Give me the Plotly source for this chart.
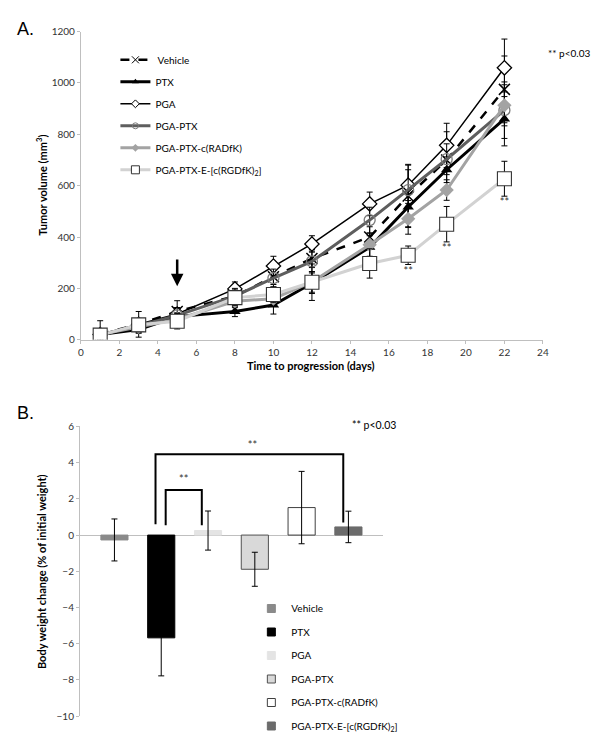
import plotly.graph_objects as go

# ---------------- Panel A data ----------------
days = [1, 3, 5, 8, 10, 12, 15, 17, 19, 22]
series_names = [" Vehicle", "PTX", "PGA", "PGA-PTX", "PGA-PTX-c(RADfK)", "PGA-PTX-E-[c(RGDfK)<sub>2</sub>]"]
vehicle = [22, 60, 110, 170, 245, 316, 400, 560, 700, 975]
vehicle_err = [52, 50, 42, 25, 30, 35, 40, 120, 110, 130]
ptx = [20, 40, 90, 110, 135, 220, 360, 517, 662, 860]
ptx_err = [15, 15, 20, 20, 35, 40, 45, 80, 50, 105]
pga = [20, 60, 100, 198, 287, 373, 529, 602, 757, 1059]
pga_err = [20, 20, 25, 27, 38, 32, 46, 60, 86, 112]
pga_ptx = [20, 55, 95, 170, 240, 305, 466, 583, 703, 894]
pga_ptx_err = [20, 25, 30, 30, 35, 40, 50, 100, 60, 110]
radfk = [20, 50, 80, 150, 160, 225, 370, 471, 583, 913]
radfk_err = [20, 20, 25, 25, 30, 40, 45, 60, 40, 80]
rgd = [18, 58, 72, 164, 176, 224, 297, 329, 450, 627]
rgd_err = [20, 25, 30, 30, 30, 71, 57, 36, 69, 68]
star_days = [17, 19, 22]
star_vals = [263, 352, 532]
arrow_day = 5
arrow_from = 318
arrow_to = 208

# ---------------- Panel B data ----------------
groups = ["Vehicle", "PTX", "PGA", "PGA-PTX", "PGA-PTX-c(RADfK)", "PGA-PTX-E-[c(RGDfK)<sub>2</sub>]"]
bw_change = [-0.27, -5.68, 0.25, -1.89, 1.52, 0.45]
bw_err = [1.16, 2.1, 1.08, 0.94, 2.0, 0.87]
bracket1_x = [1.095, 1.095, 1.867, 1.867]
bracket1_y = [0.54, 2.49, 2.49, 0.54]
bracket2_x = [0.878, 0.878, 4.89, 4.89]
bracket2_y = [0.6, 4.47, 4.47, 0.69]

fig = go.Figure()

FONT = "Lato"
lines = [
    dict(color="black", width=2.5, dash="dash"),
    dict(color="black", width=3),
    dict(color="black", width=1.5),
    dict(color="#5e5e5e", width=3),
    dict(color="#a3a3a3", width=3),
    dict(color="#d2d2d2", width=3),
]
markers = [
    dict(symbol="x-thin-open", size=11, color="black", line=dict(color="black", width=1.5)),
    dict(symbol="triangle-up", size=10, color="black"),
    dict(symbol="diamond", size=11, color="white", line=dict(color="black", width=1.3)),
    dict(symbol="circle-open", size=11, color="#7a7a7a", line=dict(color="#7a7a7a", width=1.3)),
    dict(symbol="diamond", size=11, color="#a3a3a3"),
    dict(symbol="square", size=14, color="white", line=dict(color="#333333", width=1.1)),
]
legend_sizes = [7, 6, 6, 6, 6, 8]
vals = [vehicle, ptx, pga, pga_ptx, radfk, rgd]
errs = [vehicle_err, ptx_err, pga_err, pga_ptx_err, radfk_err, rgd_err]
for i, (name, v, e) in enumerate(zip(series_names, vals, errs)):
    fig.add_trace(go.Scatter(
        x=days, y=v, name=name, mode="lines+markers", line=lines[i], marker=markers[i],
        error_y=dict(type="data", array=e, color="black", thickness=1, width=3),
        xaxis="x", yaxis="y", showlegend=False))
    lm = dict(markers[i])
    lm["size"] = legend_sizes[i]
    if "line" in lm:
        lm["line"] = dict(lm["line"], width=1)
    fig.add_trace(go.Scatter(
        x=[None], y=[None], name=name, mode="lines+markers", line=lines[i], marker=lm,
        xaxis="x", yaxis="y", legend="legend", legendgroup="a%d" % i))

fig.add_trace(go.Scatter(x=star_days, y=star_vals, mode="text", text=["**"] * 3,
                         textfont=dict(family=FONT, size=11, color="#333"),
                         showlegend=False, xaxis="x", yaxis="y", hoverinfo="skip"))

# Panel B bars
bar_colors = ["#8a8a8a", "black", "#e4e4e4", "#d9d9d9", "white", "#6b6b6b"]
bar_lines = ["#8a8a8a", "black", "#e4e4e4", "#505050", "#404040", "#6b6b6b"]
for i, g in enumerate(groups):
    fig.add_trace(go.Bar(
        x=[i], y=[bw_change[i]], name=g, width=0.58,
        marker=dict(color=bar_colors[i], line=dict(color=bar_lines[i], width=1)),
        error_y=dict(type="data", array=[bw_err[i]], color="black", thickness=1, width=3),
        xaxis="x2", yaxis="y2", showlegend=False))
    fig.add_trace(go.Scatter(
        x=[None], y=[None], name=g, mode="markers",
        marker=dict(symbol="square", size=8, color=bar_colors[i], line=dict(color=bar_lines[i], width=1)),
        xaxis="x2", yaxis="y2", legend="legend2", legendgroup="b%d" % i))

for bx, by in [(bracket1_x, bracket1_y), (bracket2_x, bracket2_y)]:
    fig.add_trace(go.Scatter(x=bx, y=by, mode="lines", line=dict(color="black", width=2),
                             showlegend=False, xaxis="x2", yaxis="y2", hoverinfo="skip"))
fig.add_trace(go.Scatter(x=[(bracket1_x[0] + bracket1_x[2]) / 2, 2.95], y=[3.05, 4.92], mode="text",
                         text=["**", "**"], textfont=dict(family=FONT, size=11, color="#333"),
                         showlegend=False, xaxis="x2", yaxis="y2", hoverinfo="skip"))

W, H = 601, 733
axis_common = dict(showgrid=False, zeroline=False, showline=True, linecolor="#bfbfbf", linewidth=1,
                   ticks="outside", tickcolor="#bfbfbf", ticklen=3,
                   tickfont=dict(family=FONT, size=10, color="#333"))

fig.update_layout(
    width=W, height=H, margin=dict(l=0, r=0, t=0, b=0),
    paper_bgcolor="white", plot_bgcolor="white", barmode="overlay",
    xaxis=dict(domain=[71 / W, 540 / W], range=[0, 24], dtick=2, anchor="y", **axis_common),
    yaxis=dict(domain=[(H - 333) / H, (H - 18) / H], range=[0, 1200], dtick=200, anchor="x", **axis_common),
    xaxis2=dict(domain=[70 / W, 377.7 / W], range=[-0.737, 5.74], showticklabels=False, showgrid=False,
                zeroline=False, showline=False, anchor="y2"),
    yaxis2=dict(domain=[(H - 717.7) / H, (H - 421.7) / H], range=[-10, 6], dtick=2, anchor="x2",
                **{**axis_common, "zeroline": True, "zerolinecolor": "#bfbfbf", "zerolinewidth": 1}),
    legend=dict(x=106 / W, y=(H - 32) / H, xanchor="left", yanchor="top", bgcolor="rgba(0,0,0,0)",
                font=dict(family=FONT, size=10, color="black"), tracegroupgap=3, itemwidth=30),
    legend2=dict(x=244 / W, y=(H - 593) / H, xanchor="left", yanchor="top", bgcolor="rgba(0,0,0,0)",
                 font=dict(family=FONT, size=10, color="black"), tracegroupgap=4.5, itemwidth=30),
    showlegend=True,
)

ann = []
ann.append(dict(text="A.", x=4 / W, y=(H - 15) / H, xref="paper", yref="paper", showarrow=False,
                xanchor="left", yanchor="middle", font=dict(family="Liberation Sans", size=18, color="black")))
ann.append(dict(text="B.", x=4 / W, y=(H - 408) / H, xref="paper", yref="paper", showarrow=False,
                xanchor="left", yanchor="middle", font=dict(family="Liberation Sans", size=18, color="black")))
ann.append(dict(text="** p<0.03", x=543 / W, y=(H - 40) / H, xref="paper", yref="paper", showarrow=False,
                xanchor="left", yanchor="middle", font=dict(family=FONT, size=10, color="black")))
ann.append(dict(text="** p<0.03", x=344 / W, y=(H - 420) / H, xref="paper", yref="paper", showarrow=False,
                xanchor="left", yanchor="middle", font=dict(family=FONT, size=10.5, color="black")))
ann.append(dict(text="<b>Tumor volume (mm<sup>3</sup>)</b>", x=31 / W, y=(H - 175) / H, xref="paper", yref="paper",
                showarrow=False, textangle=-90, xanchor="center", yanchor="middle",
                font=dict(family=FONT, size=11, color="black")))
ann.append(dict(text="<b>Time to progression (days)</b>", x=305 / W, y=(H - 359) / H, xref="paper", yref="paper",
                showarrow=False, xanchor="center", yanchor="middle",
                font=dict(family=FONT, size=11, color="black")))
ann.append(dict(text="<b>Body weight change (% of initial weight)</b>", x=31 / W, y=(H - 570) / H, xref="paper",
                yref="paper", showarrow=False, textangle=-90, xanchor="center", yanchor="middle",
                font=dict(family=FONT, size=11, color="black")))
ann.append(dict(x=arrow_day, y=arrow_to, ax=arrow_day, ay=arrow_from, xref="x", yref="y", axref="x", ayref="y",
                showarrow=True, arrowhead=2, arrowsize=1, arrowwidth=2.5, arrowcolor="black", text=""))
fig.update_layout(annotations=ann)

fig.write_html("out.html")
